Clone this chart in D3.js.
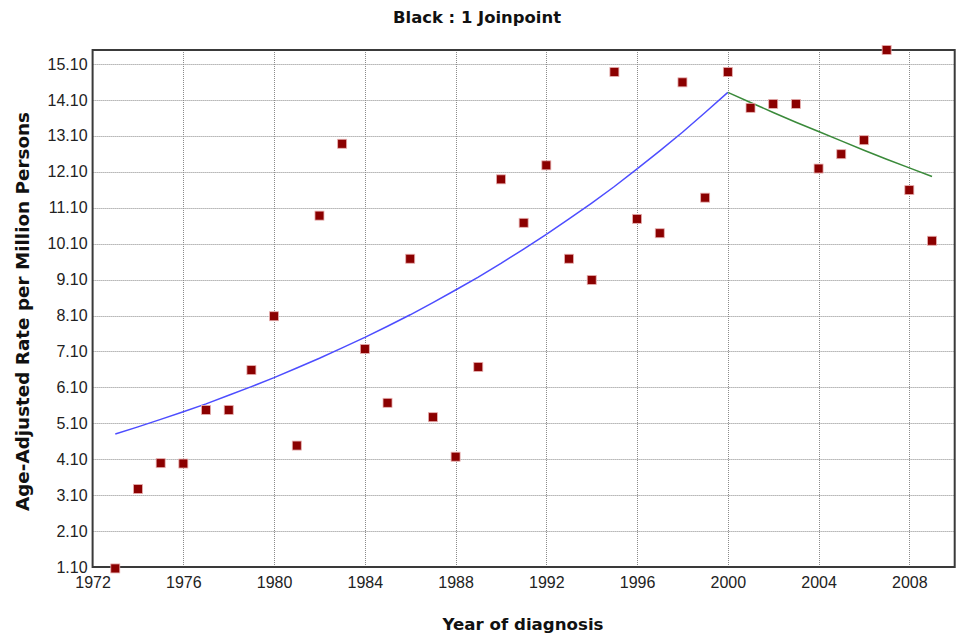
<!DOCTYPE html>
<html><head><meta charset="utf-8">
<script src="https://cdn.jsdelivr.net/npm/d3@7"></script>
<style>body{margin:0;background:#fff}svg{display:block}</style>
</head><body>
<script>
const years = [1973,1974,1975,1976,1977,1978,1979,1980,1981,1982,1983,1984,1985,1986,1987,1988,1989,1990,1991,1992,1993,1994,1995,1996,1997,1998,1999,2000,2001,2002,2003,2004,2005,2006,2007,2008,2009];
const observed = [1.06,3.27,3.99,3.98,5.47,5.47,6.58,8.08,4.48,10.88,12.88,7.17,5.67,9.68,5.27,4.17,6.67,11.89,10.68,12.28,9.68,9.09,14.88,10.79,10.39,14.59,11.38,14.88,13.88,13.99,13.99,12.19,12.59,12.98,15.49,11.59,10.18];
const seg1Years = [1973,1974,1975,1976,1977,1978,1979,1980,1981,1982,1983,1984,1985,1986,1987,1988,1989,1990,1991,1992,1993,1994,1995,1996,1997,1998,1999,2000];
const seg1Fit = [4.80,5.00,5.21,5.42,5.64,5.88,6.12,6.37,6.64,6.91,7.20,7.49,7.80,8.12,8.46,8.81,9.17,9.55,9.95,10.36,10.79,11.23,11.69,12.18,12.68,13.20,13.75,14.31];
const seg2Years = [2000,2001,2002,2003,2004,2005,2006,2007,2008,2009];
const seg2Fit = [14.31,14.03,13.75,13.48,13.22,12.96,12.70,12.45,12.21,11.97];
const yTicks = [1.10,2.10,3.10,4.10,5.10,6.10,7.10,8.10,9.10,10.10,11.10,12.10,13.10,14.10,15.10];
const xTicks = [1972,1976,1980,1984,1988,1992,1996,2000,2004,2008];
const title = "Black : 1 Joinpoint";
const xTitle = "Year of diagnosis";
const yTitle = "Age-Adjusted Rate per Million Persons";

const W = 961, H = 636;
const L = 92.6, R = 954.7, T = 50, B = 567;
const svg = d3.select("body").append("svg").attr("width", W).attr("height", H);

const x = d3.scaleLinear().domain([1972, 2010]).range([L, R]);
const y = d3.scaleLinear().domain([1.1, 15.49]).range([B, T]);

// gridlines
const grid = svg.append("g").attr("stroke", "#8a8a8a").attr("stroke-width", 1).attr("stroke-dasharray", "1,1");
grid.selectAll("line.h").data(yTicks.slice(1)).join("line")
  .attr("x1", L).attr("x2", R)
  .attr("y1", d => Math.round(y(d)) + 0.5).attr("y2", d => Math.round(y(d)) + 0.5);
grid.selectAll("line.v").data(xTicks.slice(1)).join("line")
  .attr("y1", T).attr("y2", B)
  .attr("x1", d => Math.round(x(d)) + 0.5).attr("x2", d => Math.round(x(d)) + 0.5);

// axes (labels only)
const yAxis = svg.append("g").attr("transform", `translate(${L},0)`)
  .call(d3.axisLeft(y).tickValues(yTicks).tickFormat(d3.format(".2f")).tickSize(0).tickPadding(5));
const xAxis = svg.append("g").attr("transform", `translate(0,${B})`)
  .call(d3.axisBottom(x).tickValues(xTicks).tickFormat(d3.format("d")).tickSize(0).tickPadding(10));
[yAxis, xAxis].forEach(a => {
  a.select(".domain").remove();
  a.selectAll("text").attr("font-family", "'Liberation Sans', Arial, sans-serif").attr("font-size", 16).attr("fill", "#222");
});

// frame
svg.append("rect").attr("x", L).attr("y", T).attr("width", R - L).attr("height", B - T)
  .attr("fill", "none").attr("stroke", "#3a3a3a").attr("stroke-width", 2);

// fitted lines
const line = d3.line().x(d => x(d[0])).y(d => y(d[1]));
svg.append("path").datum(seg1Years.map((d, i) => [d, seg1Fit[i]]))
  .attr("d", line).attr("fill", "none").attr("stroke", "#4d4dff").attr("stroke-width", 1.5);
svg.append("path").datum(seg2Years.map((d, i) => [d, seg2Fit[i]]))
  .attr("d", line).attr("fill", "none").attr("stroke", "#3a8a3a").attr("stroke-width", 1.5);

// points
const s = 9;
svg.append("g").selectAll("rect").data(years.map((d, i) => [d, observed[i]])).join("rect")
  .attr("x", d => x(d[0]) - s / 2).attr("y", d => y(d[1]) - s / 2)
  .attr("width", s).attr("height", s)
  .attr("fill", "#8b0000").attr("stroke", "#e8b0b0").attr("stroke-width", 0.8);

// titles
const tf = "'DejaVu Sans', Verdana, sans-serif";
svg.append("text").attr("x", 477).attr("y", 22.5).attr("text-anchor", "middle")
  .attr("font-family", tf).attr("font-weight", "bold").attr("font-size", 16)
  .attr("textLength", 168).attr("lengthAdjust", "spacingAndGlyphs")
  .attr("fill", "#111").text(title);
svg.append("text").attr("x", 523).attr("y", 630).attr("text-anchor", "middle")
  .attr("font-family", tf).attr("font-weight", "bold").attr("font-size", 16.5)
  .attr("textLength", 161).attr("lengthAdjust", "spacingAndGlyphs")
  .attr("fill", "#111").text(xTitle);
svg.append("text").attr("transform", `translate(29,${(112 + 511) / 2}) rotate(-90)`).attr("text-anchor", "middle")
  .attr("font-family", tf).attr("font-weight", "bold").attr("font-size", 17)
  .attr("textLength", 399).attr("lengthAdjust", "spacingAndGlyphs")
  .attr("fill", "#111").text(yTitle);
</script>
</body></html>
